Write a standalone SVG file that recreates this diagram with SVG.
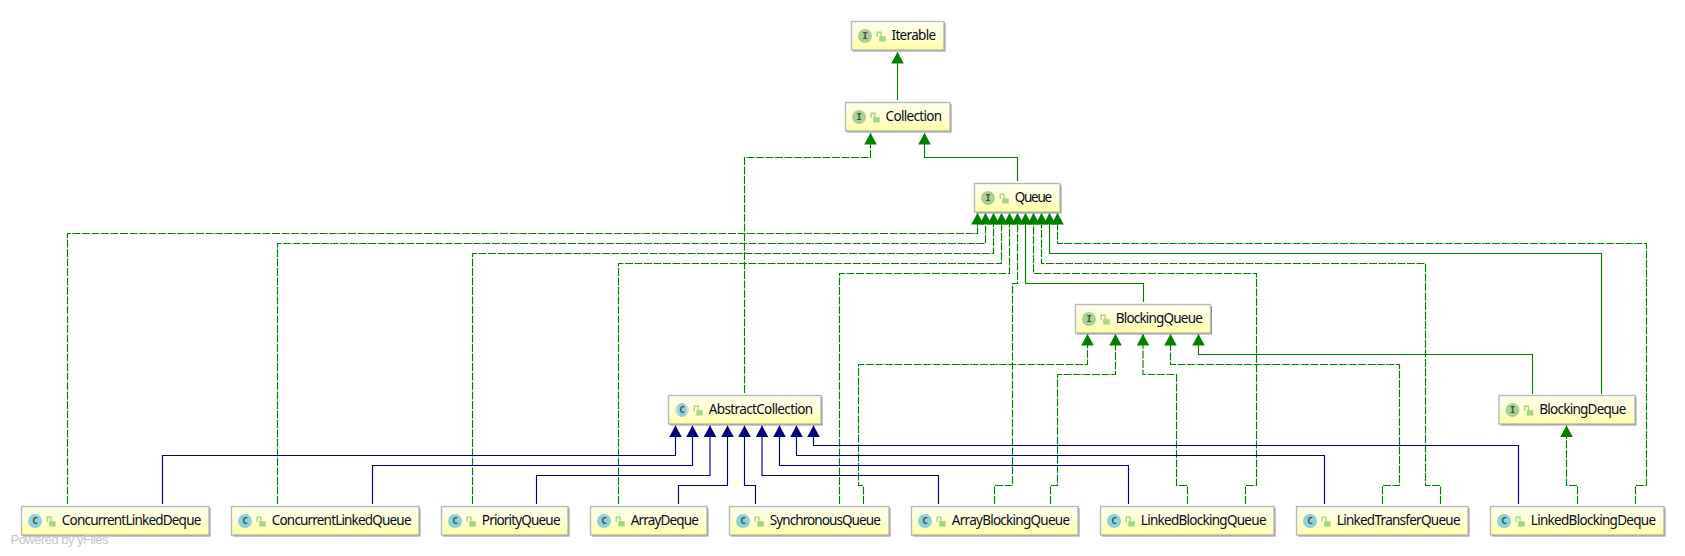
<svg xmlns="http://www.w3.org/2000/svg" xmlns:xlink="http://www.w3.org/1999/xlink" width="1685" height="556" viewBox="0 0 1685 556">
<style>
.box{fill:url(#nodeFill);stroke:#b9b9b9;stroke-width:1.4}
.shadow{fill:#8f8f8f}
.label{font-family:"Noto Sans","Open Sans","DejaVu Sans",sans-serif;font-size:13.5px;fill:#0a0a20}
.ii{fill:#a9d28f}
.ic{fill:#8bd3d9}
.glyph{font-family:"DejaVu Sans Mono","Liberation Mono",monospace;font-size:9.5px;font-weight:bold;fill:#4c4c4c;text-anchor:middle}
.lockb{fill:#a6d67e}
.locks{fill:none;stroke:#a6d67e;stroke-width:1.4}
.e{fill:none;stroke-width:1.15}
.g{stroke:#008000;marker-end:url(#ag)}
.d{stroke:#008000;stroke-dasharray:8 1.5;marker-end:url(#ag)}
.b{stroke:#000080;marker-end:url(#ab)}
.brand{font-family:"Liberation Sans",Arial,sans-serif;font-size:13px;fill:#c6c6c6}
</style>
<defs>
<linearGradient id="nodeFill" x1="0" y1="0" x2="0" y2="1"><stop offset="0" stop-color="#ffffee"/><stop offset="0.5" stop-color="#ffffd8"/><stop offset="1" stop-color="#ffffa2"/></linearGradient>
<marker id="ag" markerUnits="userSpaceOnUse" markerWidth="12" markerHeight="13" viewBox="0 0 12 13" refX="11.5" refY="6.5" orient="auto"><path d="M0 0.2L11.5 6.5L0 12.8Z" fill="#008000"/></marker>
<marker id="ab" markerUnits="userSpaceOnUse" markerWidth="12" markerHeight="13" viewBox="0 0 12 13" refX="11.5" refY="6.5" orient="auto"><path d="M0 0.2L11.5 6.5L0 12.8Z" fill="#000080"/></marker>
<g id="lock"><path class="locks" d="M-3.8 1V-3.8H0V0.5"/><rect class="lockb" x="-1.8" y="0.2" width="6.5" height="5.3"/></g>
</defs>
<rect width="1685" height="556" fill="#ffffff"/>
<g id="connectors">
<path class="e g" d="M897.5 100V52"/>
<path class="e d" d="M744.5 393V157.5H870.5V133"/>
<path class="e g" d="M1017.5 181V157.5H924.5V133"/>
<path class="e d" d="M67.5 504V233.5H977.5V213"/>
<path class="e d" d="M277.5 504V243.5H985.5V213"/>
<path class="e d" d="M472.5 504V253.5H993.5V213"/>
<path class="e d" d="M618.5 504V263.5H1001.5V213"/>
<path class="e d" d="M863.5 504V485.5H858.5V364.5H1087.5V334"/>
<path class="e d" d="M839.5 504V273.5H1009.5V213"/>
<path class="e d" d="M994.5 504V485.5H1012.5V283.5H1017.5V213"/>
<path class="e g" d="M1143.5 302V283.5H1025.5V213"/>
<path class="e d" d="M1245.5 504V485.5H1256.5V273.5H1033.5V213"/>
<path class="e d" d="M1440.5 504V485.5H1425.5V263.5H1041.5V213"/>
<path class="e g" d="M1601.5 394V253.5H1049.5V213"/>
<path class="e d" d="M1635.5 504V485.5H1646.5V243.5H1057.5V213"/>
<path class="e d" d="M1050.5 504V485.5H1057.5V374.5H1115.5V334"/>
<path class="e d" d="M1187.5 504V485.5H1176.5V374.5H1143V334"/>
<path class="e d" d="M1382.5 504V485.5H1399.5V364.5H1170.5V334"/>
<path class="e g" d="M1532.5 394V354.5H1198.5V334"/>
<path class="e d" d="M1577.5 504V485.5H1566.5V425.5"/>
<path class="e b" d="M162.5 504V455.5H675.5V425.5"/>
<path class="e b" d="M372.5 504V465.5H692.5V425.5"/>
<path class="e b" d="M536.5 504V475.5H710V425.5"/>
<path class="e b" d="M678.5 504V485.5H727.5V425.5"/>
<path class="e b" d="M755.5 504V485.5H744.5V425.5"/>
<path class="e b" d="M938.5 504V475.5H762V425.5"/>
<path class="e b" d="M1128.5 504V465.5H779.5V425.5"/>
<path class="e b" d="M1324.5 504V455.5H796.5V425.5"/>
<path class="e b" d="M1518.5 504V445.5H813.5V425.5"/>
</g>
<g id="Iterable" transform="translate(851.5 21.5)"><rect class="shadow" x="1.5" y="1.5" width="92.5" height="28.5"/><rect class="box" width="92.5" height="28.5"/><circle class="ii" cx="13.5" cy="14.5" r="7"/><text class="glyph" x="13.5" y="17.8">I</text><use href="#lock" x="29.5" y="14.5"/><text class="label" x="40" y="18.7" textLength="44.7">Iterable</text></g>
<g id="Collection" transform="translate(845.5 102.5)"><rect class="shadow" x="1.5" y="1.5" width="104.5" height="28.5"/><rect class="box" width="104.5" height="28.5"/><circle class="ii" cx="13.5" cy="14.5" r="7"/><text class="glyph" x="13.5" y="17.8">I</text><use href="#lock" x="29.5" y="14.5"/><text class="label" x="40" y="18.7" textLength="56.7">Collection</text></g>
<g id="Queue" transform="translate(974.5 183.5)"><rect class="shadow" x="1.5" y="1.5" width="85.5" height="28.5"/><rect class="box" width="85.5" height="28.5"/><circle class="ii" cx="13.5" cy="14.5" r="7"/><text class="glyph" x="13.5" y="17.8">I</text><use href="#lock" x="29.5" y="14.5"/><text class="label" x="40.3" y="18.7" textLength="37.3">Queue</text></g>
<g id="BlockingQueue" transform="translate(1075.5 304.5)"><rect class="shadow" x="1.5" y="1.5" width="135" height="28.5"/><rect class="box" width="135" height="28.5"/><circle class="ii" cx="13.5" cy="14.5" r="7"/><text class="glyph" x="13.5" y="17.8">I</text><use href="#lock" x="29.5" y="14.5"/><text class="label" x="40.3" y="18.7" textLength="87">BlockingQueue</text></g>
<g id="AbstractCollection" transform="translate(668.5 395.5)"><rect class="shadow" x="1.5" y="1.5" width="152.5" height="28.5"/><rect class="box" width="152.5" height="28.5"/><circle cx="13.5" cy="14.5" r="7" fill="#d3dcdc"/><ellipse class="ic" cx="13.5" cy="14.5" rx="4.6" ry="7"/><text class="glyph" x="13.5" y="17.8">C</text><use href="#lock" x="29.5" y="14.5"/><text class="label" x="40.3" y="18.7" textLength="104.3">AbstractCollection</text></g>
<g id="BlockingDeque" transform="translate(1499 395.5)"><rect class="shadow" x="1.5" y="1.5" width="136" height="28.5"/><rect class="box" width="136" height="28.5"/><circle class="ii" cx="13.5" cy="14.5" r="7"/><text class="glyph" x="13.5" y="17.8">I</text><use href="#lock" x="29.5" y="14.5"/><text class="label" x="40.3" y="18.7" textLength="87">BlockingDeque</text></g>
<g id="ConcurrentLinkedDeque" transform="translate(21.5 506.5)"><rect class="shadow" x="1.5" y="1.5" width="187.5" height="28.5"/><rect class="box" width="187.5" height="28.5"/><circle class="ic" cx="13.5" cy="14.5" r="7"/><text class="glyph" x="13.5" y="17.8">C</text><use href="#lock" x="29.5" y="14.5"/><text class="label" x="40.3" y="18.7" textLength="139.5">ConcurrentLinkedDeque</text></g>
<g id="ConcurrentLinkedQueue" transform="translate(231.5 506.5)"><rect class="shadow" x="1.5" y="1.5" width="187.5" height="28.5"/><rect class="box" width="187.5" height="28.5"/><circle class="ic" cx="13.5" cy="14.5" r="7"/><text class="glyph" x="13.5" y="17.8">C</text><use href="#lock" x="29.5" y="14.5"/><text class="label" x="40.3" y="18.7" textLength="139.7">ConcurrentLinkedQueue</text></g>
<g id="PriorityQueue" transform="translate(441.5 506.5)"><rect class="shadow" x="1.5" y="1.5" width="126.5" height="28.5"/><rect class="box" width="126.5" height="28.5"/><circle class="ic" cx="13.5" cy="14.5" r="7"/><text class="glyph" x="13.5" y="17.8">C</text><use href="#lock" x="29.5" y="14.5"/><text class="label" x="40.3" y="18.7" textLength="78.7">PriorityQueue</text></g>
<g id="ArrayDeque" transform="translate(590.5 506.5)"><rect class="shadow" x="1.5" y="1.5" width="116.5" height="28.5"/><rect class="box" width="116.5" height="28.5"/><circle class="ic" cx="13.5" cy="14.5" r="7"/><text class="glyph" x="13.5" y="17.8">C</text><use href="#lock" x="29.5" y="14.5"/><text class="label" x="40.3" y="18.7" textLength="68">ArrayDeque</text></g>
<g id="SynchronousQueue" transform="translate(729.5 506.5)"><rect class="shadow" x="1.5" y="1.5" width="159.5" height="28.5"/><rect class="box" width="159.5" height="28.5"/><circle class="ic" cx="13.5" cy="14.5" r="7"/><text class="glyph" x="13.5" y="17.8">C</text><use href="#lock" x="29.5" y="14.5"/><text class="label" x="40.3" y="18.7" textLength="111">SynchronousQueue</text></g>
<g id="ArrayBlockingQueue" transform="translate(911.5 506.5)"><rect class="shadow" x="1.5" y="1.5" width="166.5" height="28.5"/><rect class="box" width="166.5" height="28.5"/><circle class="ic" cx="13.5" cy="14.5" r="7"/><text class="glyph" x="13.5" y="17.8">C</text><use href="#lock" x="29.5" y="14.5"/><text class="label" x="40.3" y="18.7" textLength="118.3">ArrayBlockingQueue</text></g>
<g id="LinkedBlockingQueue" transform="translate(1100.5 506.5)"><rect class="shadow" x="1.5" y="1.5" width="173.5" height="28.5"/><rect class="box" width="173.5" height="28.5"/><circle class="ic" cx="13.5" cy="14.5" r="7"/><text class="glyph" x="13.5" y="17.8">C</text><use href="#lock" x="29.5" y="14.5"/><text class="label" x="40.3" y="18.7" textLength="125.7">LinkedBlockingQueue</text></g>
<g id="LinkedTransferQueue" transform="translate(1296.5 506.5)"><rect class="shadow" x="1.5" y="1.5" width="171.5" height="28.5"/><rect class="box" width="171.5" height="28.5"/><circle class="ic" cx="13.5" cy="14.5" r="7"/><text class="glyph" x="13.5" y="17.8">C</text><use href="#lock" x="29.5" y="14.5"/><text class="label" x="40.3" y="18.7" textLength="123.7">LinkedTransferQueue</text></g>
<g id="LinkedBlockingDeque" transform="translate(1490.5 506.5)"><rect class="shadow" x="1.5" y="1.5" width="173.5" height="28.5"/><rect class="box" width="173.5" height="28.5"/><circle class="ic" cx="13.5" cy="14.5" r="7"/><text class="glyph" x="13.5" y="17.8">C</text><use href="#lock" x="29.5" y="14.5"/><text class="label" x="40.3" y="18.7" textLength="125.3">LinkedBlockingDeque</text></g>
<text class="brand" x="10.5" y="544" textLength="98">Powered by yFiles</text>
</svg>
